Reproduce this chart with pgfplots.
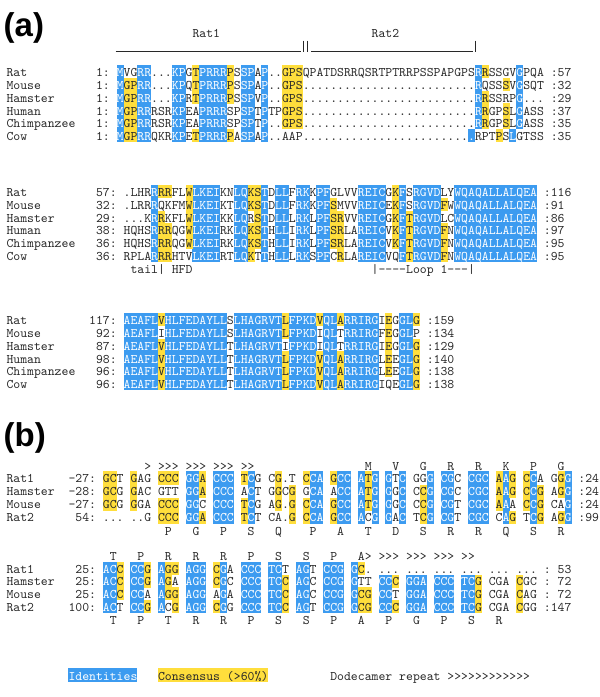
\documentclass[border=0pt]{standalone}
\usepackage{fontspec}
\usepackage{pgfplots}
\pgfplotsset{compat=1.18}
\newfontfamily\seqfont{lmmono10-regular.otf}
\newfontfamily\labfont{Liberation Sans}
\definecolor{idblue}{RGB}{60,155,240}
\definecolor{consyel}{RGB}{255,222,60}
\definecolor{txt}{RGB}{40,40,40}
\newcommand\fs{\seqfont\fontsize{13.1pt}{13.1pt}\selectfont}
\pgfdeclareplotmark{cell}{\pgfpathrectangle{\pgfqpoint{-3.5pt}{-6.6pt}}{\pgfqpoint{7pt}{13.2pt}}\pgfusepathqfill}

\ExplSyntaxOn
\tl_new:N \g_ali_cellsb_tl
\tl_new:N \g_ali_cellsy_tl
\tl_new:N \g_ali_nodes_tl
\str_new:N \l_ali_text_str
\str_new:N \l_ali_mask_str
\str_new:N \l_ali_c_str
\str_new:N \l_ali_m_str
\str_const:Nn \c_ali_bang_str {!}
\fp_new:N \g_ali_off_fp
\fp_gset:Nn \g_ali_off_fp {5}
\NewDocumentCommand \SetOff {m} { \fp_gset:Nn \g_ali_off_fp {#1} }
\cs_new_protected:Npn \ali_text:nn #1#2
 {
  \str_set:Nn \l_ali_text_str {#1}
  \str_set:Nn \l_ali_mask_str {#2}
  \int_step_inline:nn { \str_count:N \l_ali_text_str }
   {
    \str_set:Nx \l_ali_c_str { \str_item:Nn \l_ali_text_str {##1} }
    \str_set:Nx \l_ali_m_str { \str_item:Nn \l_ali_mask_str {##1} }
    \makebox[6.89pt][c]
     {
      \str_if_eq:VnT \l_ali_m_str {b} { \color{white} }
      \str_if_eq:VVTF \l_ali_c_str \c_tilde_str
       { }
       {
        \str_if_eq:VVTF \l_ali_c_str \c_ali_bang_str
         { \symbol{37} }
         { \l_ali_c_str }
       }
     }
   }
 }
\cs_new_protected:Npn \ali_regcells:nnn #1#2#3
 {
  \str_set:Nn \l_ali_mask_str {#3}
  \int_step_inline:nn { \str_count:N \l_ali_mask_str }
   {
    \str_set:Nx \l_ali_m_str { \str_item:Nn \l_ali_mask_str {##1} }
    \str_if_eq:VnT \l_ali_m_str {b}
     {
      \tl_gput_right:Nx \g_ali_cellsb_tl
       { ( \fp_eval:n { 6.5 + (#1 + ##1 - 1) * 6.89 + 3.445 } , \fp_eval:n { #2 - \g_ali_off_fp } ) }
     }
    \str_if_eq:VnT \l_ali_m_str {y}
     {
      \tl_gput_right:Nx \g_ali_cellsy_tl
       { ( \fp_eval:n { 6.5 + (#1 + ##1 - 1) * 6.89 + 3.445 } , \fp_eval:n { #2 - \g_ali_off_fp } ) }
     }
   }
 }
\NewDocumentCommand \AliRow { m m m m }
 {
  \ali_regcells:nnn {#1} {#2} {#4}
  \tl_gput_right:Nx \g_ali_nodes_tl
   {
    \exp_not:N \node [ anchor = base~west , inner~sep = 0pt , outer~sep = 0pt , text = txt , font = \exp_not:N \fs ]
     ~ at ~ ( axis~cs \c_colon_str \fp_eval:n { 6.5 + #1 * 6.89 } , #2 )
     { \exp_not:N \ali_text:nn { \exp_not:n {#3} } { \exp_not:n {#4} } } ;
   }
 }
\NewDocumentCommand \DrawCells {}
 {
  \use:x
   {
    \exp_not:N \addplot [ only~marks , mark = cell , color = idblue , forget~plot ]
     ~ coordinates ~ { \exp_not:V \g_ali_cellsb_tl } ;
   }
  \use:x
   {
    \exp_not:N \addplot [ only~marks , mark = cell , color = consyel , forget~plot ]
     ~ coordinates ~ { \exp_not:V \g_ali_cellsy_tl } ;
   }
 }
\NewDocumentCommand \DrawNodes {} { \tl_use:N \g_ali_nodes_tl }
\ExplSyntaxOff

\NewDocumentCommand\ARow{mmmmmmmmm}{\AliRow{0}{#1}{#2}{}\AliRow{#3}{#1}{#4}{}\AliRow{#5}{#1}{#6}{#7}\AliRow{#8}{#1}{#9}{}}

% ---------------- (a) ----------------
\SetOff{5}
\AliRow{27}{37.5}{Rat1}{}
\AliRow{53}{37.5}{Rat2}{}
% block 1
\ARow{76.6}{Rat}{13}{1:}{16}{MVGRR...KPGTPRRRPSSPAP..GPSQPATDSRRQSRTPTRRPSSPAPGPSRRSSGVGPQA}{b--bb---bb-ybbbby-bb-b--yyy-------------------------by----b---}{79}{:57}
\ARow{89.4}{Mouse}{13}{1:}{16}{MGPRR...KPQTPRRRPSSPAP..GPS.........................RQSSSVGSQT}{byybb---bb-ybbbby-bb-b--yyy-------------------------b---y-b---}{79}{:32}
\ARow{102.2}{Hamster}{13}{1:}{16}{MGPRR...KPRTPRRRPSSPVP..GPS.........................RRSSRPG...}{byybb---bb-ybbbby-bb-b--yyy-------------------------by----b---}{79}{:29}
\ARow{115.0}{Human}{13}{1:}{16}{MGPRRRSRKPEAPRRRSPSPTPTPGPS.........................RRGPSLGASS}{byybb---bb--bbbb--bb-b--yyy-------------------------by--y-b---}{79}{:37}
\ARow{127.8}{Chimpanzee}{13}{1:}{16}{MGPRRRSRKPEAPRRRSPSPTP..GPS.........................RRGPSLGASS}{byybb---bb--bbbb--bb-b--yyy-------------------------by--y-b---}{79}{:35}
\ARow{140.6}{Cow}{13}{1:}{16}{MGPRRQKRKPETPRRRPASPAP..AAP.........................RPTPSLGTSS}{byybb---bb-ybbbby-bb-b-----------------------------b---y-b---}{79}{:35}
% block 2
\ARow{196.6}{Rat}{13}{57:}{17}{.LHRRRRFLWLKEIKNLQKSTDLLFRKKPFGLVVREICGKFSRGVDLYWQAQALLALQEA}{----byy--ybbbb--bbyyb-bb-bb-bb----bbbb-yb-bbbb--bbbbbbbbbbbb}{78}{:116}
\ARow{209.35}{Mouse}{13}{32:}{17}{.LRRRQKFMWLKEIKTLQKSTDLLFRKKPFSMVVREICEKFSRGVDFWWQAQALLALQEA}{----b----ybbbb--bbyyb-bb-bb-bby---bbbb-yb-bbbby-bbbbbbbbbbbb}{78}{:91}
\ARow{222.1}{Hamster}{13}{29:}{17}{...KRRKFLWLKEIKKLQRSTDLLLRKLPFSRVVREICGKFTRGVDLCWQAQALLALQEA}{----by---ybbbb--bb-yb-bb-bb-bbyy--bbbb-ybybbbb--bbbbbbbbbbbb}{78}{:86}
\ARow{234.8}{Human}{13}{38:}{17}{HQHSRRRQGWLKEIRKLQKSTHLLIRKLPFSRLAREICVKFTRGVDFNWQAQALLALQEA}{----byy--ybbbb--bbyyb-bb-bb-bbyy--bbbb-ybybbbby-bbbbbbbbbbbb}{78}{:97}
\ARow{247.5}{Chimpanzee}{13}{36:}{17}{HQHSRRRQGWLKEIRKLQKSTHLLIRKLPFSRLAREICVKFTRGVDFNWQAQALLALQEA}{----byy--ybbbb--bbyyb-bb-bb-bbyy--bbbb-ybybbbby-bbbbbbbbbbbb}{78}{:95}
\ARow{260.3}{Cow}{13}{36:}{17}{RPLARRRHTVLKEIRTLQKTTHLLLRKSPFCRLAREICVQFTRGVDFNWQAQALLALQEA}{----byy---bbbb--bby-b-bb-bb-bb-y--bbbb--bybbbby-bbbbbbbbbbbb}{78}{:95}
\AliRow{18}{273.3}{tail| HFD}{}
\AliRow{53}{273.3}{|----Loop 1---|}{}
% block 3
\ARow{324.6}{Rat}{12}{117:}{17}{AEAFLVHLFEDAYLLSLHAGRVTLFPKDVQLARRIRGIEGGLG}{bbbbbybbbbbbbbb-bbbbbbbybbbbybbybbbbb-y-bby}{61}{:159}
\ARow{337.4}{Mouse}{13}{92:}{17}{AEAFLIHLFEDAYLLSLHAGRVTLFPKDIQLTRRIRGFEGGLP}{bbbbb-bbbbbbbbb-bbbbbbbybbbb-bb-bbbbb-y-bb-}{61}{:134}
\ARow{350.2}{Hamster}{13}{87:}{17}{AEAFLVHLFEDAYLLTLHAGRVTIFPKDIQLTRRIRGIEGGLG}{bbbbbybbbbbbbbb-bbbbbbb-bbbb-bb-bbbbb-y-bby}{61}{:129}
\ARow{363.0}{Human}{13}{98:}{17}{AEAFLVHLFEDAYLLTLHAGRVTLFPKDVQLARRIRGLEEGLG}{bbbbbybbbbbbbbb-bbbbbbbybbbbybbybbbbb-y-bby}{61}{:140}
\ARow{375.8}{Chimpanzee}{13}{96:}{17}{AEAFLVHLFEDAYLLTLHAGRVTLFPKDVQLARRIRGLEEGLG}{bbbbbybbbbbbbbb-bbbbbbbybbbbybbybbbbb-y-bby}{61}{:138}
\ARow{388.6}{Cow}{13}{96:}{17}{AEAFLVHLFEDAYLLTLHAGRVTLFPKDVQLARRIRGIQEGLG}{bbbbbybbbbbbbbb-bbbbbbbybbbbybbybbbbb---bby}{61}{:138}

% ---------------- (b) ----------------
\SetOff{4.5}
\AliRow{20}{470.9}{>~>>>~>>>~>>>~>>}{}
\AliRow{52}{470.9}{M~~~V~~~G~~~R~~~R~~~K~~~P~~~G}{}
\ARow{482.5}{Rat1}{9}{-27:}{14}{GCT GAG CCC GGA CCC TCG CG.T CCA GCC ATG GTC GGG CGC CGC AAG CCA GGG}{yy- y-- yyy bby bbb yb- -y-- ybb ybb byb b-b --b bb- bbb yby yb- -yb}{83}{:24}
\ARow{495.6}{Hamster}{9}{-28:}{14}{GCG GAC GTT GGA CCC ACT GGCG GCA ACC ATG GGC CCG CGC CGC AAG CCG AGG}{yy- y-- --- bby bbb -b- -y-y -bb -bb byb b-b -yb bb- bbb yby yby -yb}{83}{:24}
\ARow{508.7}{Mouse}{9}{-27:}{14}{GCG GGA CCC GGC CCC TCG AG.G CCA GCC ATG GGC CCG CGT CGC AAA CCG CAG}{yy- y-- yyy bb- bbb yb- -y-y ybb ybb byb b-b -yb bb- bbb yb- yby --b}{83}{:24}
\ARow{521.8}{Rat2}{10}{54:}{14}{... ..G CCC GGA CCC TCT CA.G CCA GCC ACG GAC TCG CGT CGC CAG TCG AGG}{--- --- yyy bby bbb yb- ---y ybb ybb b-b b-b -yb bb- bbb -by -by -yb}{83}{:99}
\AliRow{23}{535}{P~~~G~~~P~~~S~~~Q~~~~P~~~A~~~T~~~D~~~S~~~R~~~R~~~Q~~~S~~~R}{}

\AliRow{15}{560}{T~~~P~~~R~~~R~~~R~~~P~~~S~~~S~~~P~~~A>~>>>~>>>~>>>~>>}{}
\ARow{573}{Rat1}{10}{25:}{14}{ACC CCG AGG AGG CGA CCC TCT AGT CCG GC. ... ... ... ... ... ...}{bby bby byy bbb yb- bbb bb- bb- bbb by- --- --- --- --- --- ---}{78}{:~53}
\ARow{585.7}{Hamster}{10}{25:}{14}{ACC CCG AGA AGG CGC CCC TCC AGC CCG GTT CCC GGA CCC TCG CGA CGC}{bby bby by- bbb yb- bbb bby bb- bbb b-- bby bbb bbb bby --- y--}{78}{:~72}
\ARow{598.3}{Mouse}{10}{25:}{14}{ACC CCA AGG AGG AGA CCC TCC AGC CCG GCG CCT GGA CCC TCG CGA CAG}{bby bb- byy bbb -b- bbb bby bb- bbb byy bb- bbb bbb bby --- y--}{78}{:~72}
\ARow{611.3}{Rat2}{9}{100:}{14}{ACT CCG ACG AGG CGG CCC TCC AGT CCG GCG CCC GGA CCC TCG CGA CGG}{bb- bby b-y bbb yb- bbb bby bb- bbb byy bby bbb bbb bby --- y--}{78}{:147}
\AliRow{15}{624}{T~~~P~~~T~~~R~~~R~~~P~~~S~~~S~~~P~~~A~~~P~~~G~~~P~~~S~~~R}{}

% legend
\SetOff{5.5}
\AliRow{9}{680.4}{Identities}{bbbbbbbbbb}
\AliRow{22}{680.4}{Consensus (>60!)}{yyyyyyyyyyyyyyyy}
\AliRow{47}{680.4}{Dodecamer repeat >>>>>>>>>>>>}{}

\pgfplotsset{alignaxis/.style={
  width=600pt, height=697pt, scale only axis,
  xmin=0, xmax=600, ymin=0, ymax=697, y dir=reverse,
  hide axis, clip=false, anchor=south west, at={(0pt,0pt)}}}

\begin{document}
\begin{tikzpicture}
% highlight cells (drawn first, underneath)
\begin{axis}[alignaxis]
\path (rel axis cs:0,0) rectangle (rel axis cs:1,1);
\DrawCells
\end{axis}
% text and bracket lines (drawn on top)
\begin{axis}[alignaxis]
\addplot[draw=txt, line width=0.6pt, mark=none, forget plot] coordinates {(115.5,51.6) (300.5,51.6)};
\addplot[draw=txt, line width=0.6pt, mark=none, forget plot] coordinates {(302.8,40.5) (302.8,52.2)};
\addplot[draw=txt, line width=0.6pt, mark=none, forget plot] coordinates {(307.6,40.5) (307.6,52.2)};
\addplot[draw=txt, line width=0.6pt, mark=none, forget plot] coordinates {(311.0,51.6) (472.5,51.6)};
\addplot[draw=txt, line width=0.6pt, mark=none, forget plot] coordinates {(475.0,40.5) (475.0,52.2)};
\DrawNodes
\node[anchor=base west, inner sep=0pt, font=\labfont\bfseries\fontsize{33pt}{33pt}\selectfont] at (axis cs:3.5,36.8) {(a)};
\node[anchor=base west, inner sep=0pt, font=\labfont\bfseries\fontsize{33pt}{33pt}\selectfont] at (axis cs:3.5,446) {(b)};
\end{axis}
\end{tikzpicture}
\end{document}
